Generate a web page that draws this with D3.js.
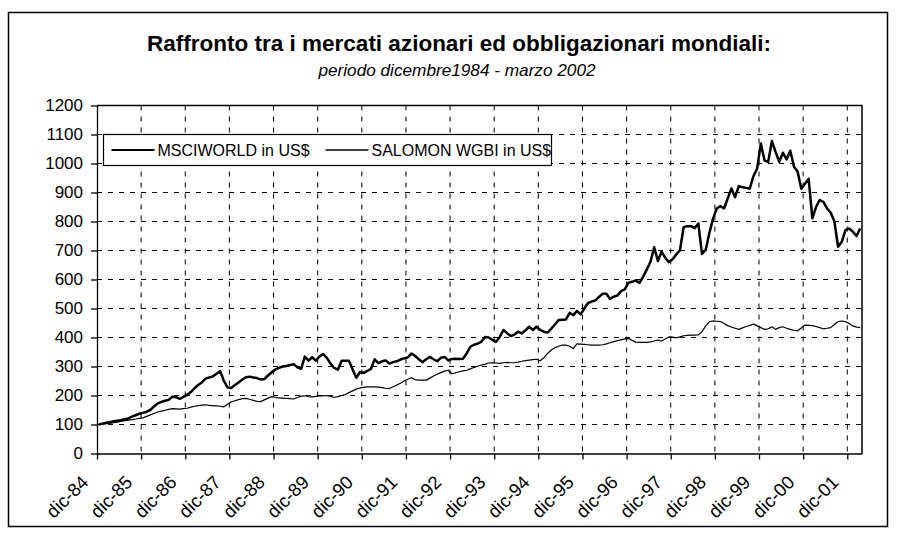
<!DOCTYPE html>
<html>
<head>
<meta charset="utf-8">
<script src="https://cdnjs.cloudflare.com/ajax/libs/d3/7.8.5/d3.min.js"></script>
<style>
	body { margin: 0; background: #fff; }
</style>
</head>
<body>
<div id="chart-container"></div>
<script>
// Italian month abbreviations, series starts at dic-84
var monthNames = ['gen', 'feb', 'mar', 'apr', 'mag', 'giu', 'lug', 'ago', 'set', 'ott', 'nov', 'dic'];
var yTicks = [0, 100, 200, 300, 400, 500, 600, 700, 800, 900, 1000, 1100, 1200];
var seriesNames = ['MSCIWORLD in US$', 'SALOMON WGBI in US$'];

// monthly values, one row = 12 months starting from dic
var msciWorld = [
	100, 103, 106, 108, 111, 113, 115, 118, 121, 127, 132, 137,
	140, 144, 150, 162, 173, 178, 182, 185, 196, 194, 188, 195,
	202, 212, 225, 236, 245, 258, 262, 266, 275, 284, 250, 228,
	226, 236, 245, 255, 263, 265, 262, 260, 255, 257, 269, 280,
	290, 295, 300, 302, 305, 308, 297, 292, 334, 320, 332, 320,
	335, 343, 330, 310, 295, 289, 320, 320, 320, 290, 261, 281,
	278, 285, 292, 325, 312, 318, 321, 310, 315, 318, 324, 328,
	331, 345, 336, 325, 315, 325, 333, 325, 318, 330, 333, 321,
	326, 327, 326, 327, 345, 368, 375, 379, 385, 402, 400, 392,
	385, 402, 426, 415, 405, 410, 420, 414, 425, 437, 426, 437,
	426, 420, 417, 430, 445, 460, 461, 462, 485, 477, 492, 480,
	500, 519, 524, 528, 540, 551, 551, 533, 541, 545, 560, 566,
	589, 592, 597, 588, 610, 635, 661, 711, 664, 696, 675, 660,
	670, 686, 701, 780, 784, 784, 777, 793, 688, 702, 760, 810,
	845, 853, 845, 880, 914, 884, 922, 918, 916, 914, 957, 983,
	1069, 1010, 1006, 1078, 1040, 1006, 1037, 1014, 1044, 989, 972, 913,
	930, 947, 811, 850, 874, 868, 845, 830, 800, 713, 730, 770,
	776, 765, 750, 776
];

var salomonWgbi = [
	100, 101, 103, 104, 106, 108, 111, 113, 115, 117, 119, 121,
	123, 128, 133, 138, 143, 146, 149, 152, 155, 154, 153, 155,
	156, 160, 163, 165, 167, 168, 166, 165, 164, 163, 161, 170,
	178, 182, 186, 189, 190, 187, 183, 180, 179, 185, 191, 196,
	193, 192, 191, 190, 189, 188, 193, 198, 199, 196, 195, 197,
	199, 199, 200, 197, 193, 196, 200, 203, 210, 216, 222, 226,
	228, 230, 230, 230, 229, 227, 225, 224, 230, 236, 242, 250,
	256, 261, 255, 253, 253, 253, 260, 267, 273, 279, 284, 287,
	275, 278, 282, 285, 287, 292, 297, 301, 305, 308, 312, 313,
	312, 311, 313, 314, 313, 313, 315, 318, 320, 322, 324, 325,
	320, 330, 345, 357, 365, 370, 374, 374, 370, 362, 378, 377,
	376, 375, 374, 374, 374, 375, 378, 382, 386, 389, 392, 395,
	397, 390, 384, 383, 383, 383, 385, 388, 391, 388, 395, 402,
	401, 399, 402, 406, 407, 408, 408, 409, 420, 440, 455, 457,
	456, 455, 448, 441, 436, 432, 428, 433, 438, 442, 446, 440,
	434, 428, 430, 437, 428, 434, 437, 432, 428, 425, 423, 433,
	443, 442, 441, 438, 434, 430, 432, 434, 445, 455, 457, 455,
	448, 440, 436, 434
];

// category labels dic-84 ... mar-02
var categories = msciWorld.map(function (d, i) {
	var m = (11 + i) % 12;
	var yr = 1984 + Math.floor((11 + i) / 12);
	return monthNames[m] + '-' + String(yr).slice(-2);
});

function Chart() {
	var attrs = {
		svgWidth: 900,
		svgHeight: 542,
		marginTop: 105.5,
		marginLeft: 97,
		plotWidth: 765,
		plotHeight: 348,
		container: '#chart-container',
		defaultFont: '"Liberation Sans", Arial, Helvetica, sans-serif',
		title: 'Raffronto tra i mercati azionari ed obbligazionari mondiali:',
		subtitle: 'periodo dicembre1984 - marzo 2002'
	};

	var main = function () {
		var svg = d3.select(attrs.container).append('svg')
			.attr('width', attrs.svgWidth)
			.attr('height', attrs.svgHeight)
			.style('font-family', attrs.defaultFont);

		// outer frame
		svg.append('rect')
			.attr('x', 8.5).attr('y', 12.5)
			.attr('width', 879).attr('height', 514)
			.attr('fill', '#fff')
			.attr('stroke', '#000')
			.attr('stroke-width', 1.5);

		svg.append('text')
			.attr('x', 459).attr('y', 51)
			.attr('text-anchor', 'middle')
			.attr('font-size', 22.5)
			.attr('font-weight', 'bold')
			.text(attrs.title);

		svg.append('text')
			.attr('x', 457).attr('y', 76)
			.attr('text-anchor', 'middle')
			.attr('font-size', 17.2)
			.attr('font-style', 'italic')
			.text(attrs.subtitle);

		var g = svg.append('g')
			.attr('transform', 'translate(' + attrs.marginLeft + ',' + attrs.marginTop + ')');

		var x = d3.scaleLinear().domain([0, categories.length]).range([0, attrs.plotWidth]);
		var y = d3.scaleLinear().domain([0, 1200]).range([attrs.plotHeight, 0]);

		var dicIdx = categories.map(function (c, i) { return i; }).filter(function (i) { return categories[i].indexOf('dic') === 0; });

		// grid
		g.selectAll('.hgrid').data(yTicks.slice(1, -1)).enter().append('line')
			.attr('class', 'hgrid')
			.attr('x1', 0).attr('x2', attrs.plotWidth)
			.attr('y1', function (d) { return y(d); }).attr('y2', function (d) { return y(d); })
			.attr('stroke', '#000').attr('stroke-width', 1)
			.attr('stroke-dasharray', '5,6');

		g.selectAll('.vgrid').data(dicIdx.slice(1)).enter().append('line')
			.attr('class', 'vgrid')
			.attr('x1', function (d) { return x(d); }).attr('x2', function (d) { return x(d); })
			.attr('y1', 0).attr('y2', attrs.plotHeight)
			.attr('stroke', '#000').attr('stroke-width', 1)
			.attr('stroke-dasharray', '5,6');

		// plot border (top + right)
		g.append('path')
			.attr('d', 'M0,0H' + attrs.plotWidth + 'V' + attrs.plotHeight)
			.attr('fill', 'none').attr('stroke', '#000').attr('stroke-width', 1.5);

		// axes
		var yAxis = g.append('g')
			.call(d3.axisLeft(y).tickValues(yTicks).tickSize(6).tickPadding(8).tickSizeOuter(0)
				.tickFormat(d3.format('d')));
		yAxis.selectAll('text').attr('font-size', 17).attr('fill', '#000').style('font-family', attrs.defaultFont);
		yAxis.selectAll('line, path').attr('stroke', '#000').attr('stroke-width', 1.3);

		var xAxis = g.append('g')
			.attr('transform', 'translate(0,' + attrs.plotHeight + ')')
			.call(d3.axisBottom(x).tickValues(dicIdx).tickSize(6).tickSizeOuter(0)
				.tickFormat(function (i) { return categories[i]; }));
		xAxis.selectAll('line, path').attr('stroke', '#000').attr('stroke-width', 1.3);
		xAxis.selectAll('text')
			.attr('font-size', 18.5).attr('fill', '#000').style('font-family', attrs.defaultFont)
			.attr('text-anchor', 'end')
			.attr('dy', null)
			.attr('y', 0)
			.attr('transform', 'translate(-8,30) rotate(-45)');

		// lines
		var line = d3.line()
			.x(function (d, i) { return x(i + 0.5); })
			.y(function (d) { return y(d); });

		g.append('path').datum(salomonWgbi)
			.attr('d', line)
			.attr('fill', 'none').attr('stroke', '#000').attr('stroke-width', 1.2)
			.attr('stroke-linejoin', 'round');

		g.append('path').datum(msciWorld)
			.attr('d', line)
			.attr('fill', 'none').attr('stroke', '#000').attr('stroke-width', 2.5)
			.attr('stroke-linejoin', 'round');

		// legend
		var legend = svg.append('g').attr('transform', 'translate(103.5,134.5)');
		legend.append('rect')
			.attr('width', 448).attr('height', 31)
			.attr('fill', '#fff').attr('stroke', '#000').attr('stroke-width', 1.2);

		var items = [
			{ name: seriesNames[0], x: 8, w: 2 },
			{ name: seriesNames[1], x: 222, w: 1.3 }
		];
		var item = legend.selectAll('.item').data(items).enter().append('g')
			.attr('class', 'item')
			.attr('transform', function (d) { return 'translate(' + d.x + ',0)'; });
		item.append('line')
			.attr('x1', 0).attr('x2', 43).attr('y1', 15.5).attr('y2', 15.5)
			.attr('stroke', '#000').attr('stroke-width', function (d) { return d.w; });
		item.append('text')
			.attr('x', 46).attr('y', 21.5)
			.attr('font-size', 16)
			.text(function (d) { return d.name; });
	};

	main.render = function () {
		main();
		return main;
	};

	return main;
}

Chart().render();
</script>
</body>
</html>
